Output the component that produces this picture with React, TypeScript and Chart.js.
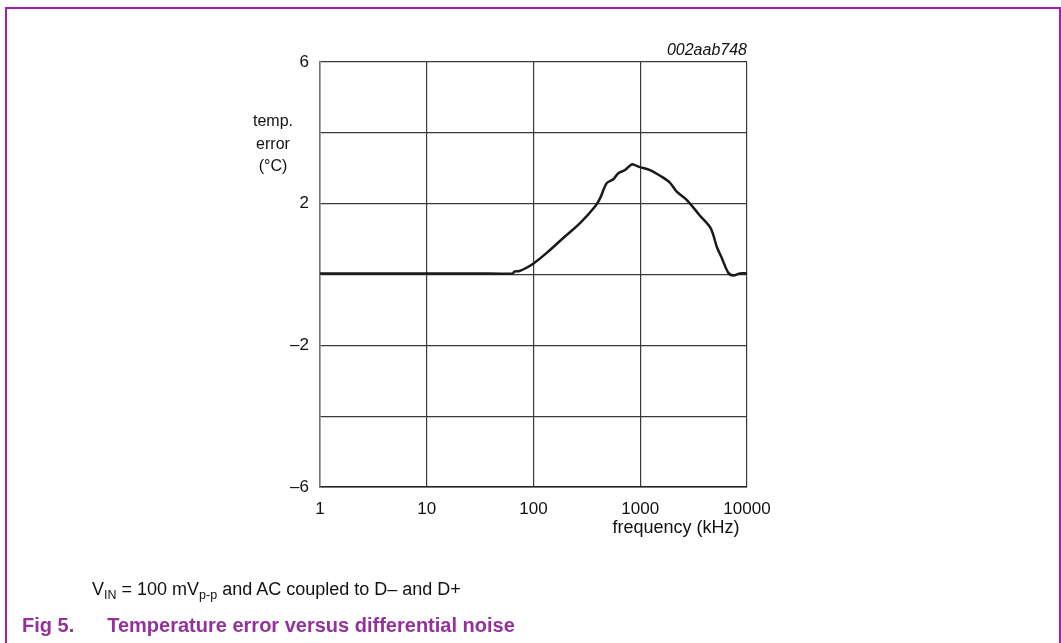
import React, { useEffect, useRef } from "react";
import { Chart, registerables } from "chart.js";

Chart.register(...registerables);

const freqKHz = [1, 10, 30, 64, 66, 74, 86, 100, 133, 190, 273, 377, 420, 485, 560, 623, 720, 831, 893, 995, 1234, 1589, 1900, 2195, 2724, 3630, 4500, 4830, 5200, 5795, 6680, 7450, 8600, 10000];
const tempError = [0.03, 0.03, 0.03, 0.03, 0.08, 0.1, 0.19, 0.31, 0.61, 1.03, 1.45, 1.92, 2.15, 2.58, 2.69, 2.86, 2.95, 3.11, 3.09, 3.03, 2.95, 2.76, 2.59, 2.34, 2.11, 1.66, 1.34, 1.12, 0.79, 0.47, 0.05, -0.03, 0.03, 0.03];
const xTickValues = [1, 10, 100, 1000, 10000];
const yTickValues = [-6, -4, -2, 0, 2, 4, 6];
const yLabeledTicks = [6, 2, -2, -6];

const FONT = "'Liberation Sans', Arial, sans-serif";
const PURPLE = "#a020a8";
const PURPLE_TEXT = "#93329a";

export default function App() {
  const ref = useRef<HTMLCanvasElement | null>(null);

  useEffect(() => {
    if (!ref.current) return;
    const chart = new Chart(ref.current, {
      type: "line",
      data: {
        datasets: [
          {
            data: freqKHz.map((f, i) => ({ x: f, y: tempError[i] })),
            borderColor: "#1a1a1a",
            borderWidth: 2.5,
            pointRadius: 0,
            tension: 0.3,
            fill: false,
          },
        ],
      },
      options: {
        animation: false,
        responsive: false,
        maintainAspectRatio: false,
        layout: { padding: { left: 280, right: 314, top: 62, bottom: 116 } },
        plugins: { legend: { display: false }, tooltip: { enabled: false }, title: { display: false } },
        scales: {
          x: {
            type: "logarithmic",
            min: 1,
            max: 10000,
            afterBuildTicks: (s: any) => {
              s.ticks = xTickValues.map((v) => ({ value: v }));
            },
            afterFit: (s: any) => {
              s.height = 40;
              s.paddingLeft = 0;
              s.paddingRight = 0;
              s.paddingTop = 0;
              s.paddingBottom = 0;
            },
            ticks: {
              autoSkip: false,
              maxRotation: 0,
              padding: 12,
              color: "#111",
              font: { family: FONT, size: 17 },
              callback: (v: any) => String(v),
            },
            grid: { color: "#3a3a3a", lineWidth: 1.2, drawTicks: false },
            border: { color: "#222", width: 1.5 },
          },
          y: {
            min: -6,
            max: 6,
            afterBuildTicks: (s: any) => {
              s.ticks = yTickValues.map((v) => ({ value: v }));
            },
            afterFit: (s: any) => {
              s.width = 40;
              s.paddingLeft = 0;
              s.paddingRight = 0;
              s.paddingTop = 0;
              s.paddingBottom = 0;
            },
            ticks: {
              padding: 11,
              color: "#111",
              font: { family: FONT, size: 17 },
              callback: (v: any) =>
                yLabeledTicks.includes(Number(v)) ? (Number(v) < 0 ? "\u2013" + Math.abs(Number(v)) : String(v)) : "",
            },
            grid: { color: "#3a3a3a", lineWidth: 1.2, drawTicks: false },
            border: { color: "#777", width: 1.5 },
          },
        },
      },
    });
    return () => chart.destroy();
  }, []);

  const abs = (s: React.CSSProperties): React.CSSProperties => ({ position: "absolute", fontFamily: FONT, whiteSpace: "nowrap", ...s });

  return (
    <div style={{ position: "absolute", left: 0, top: 0, width: 1061, height: 643, overflow: "hidden", background: "#fff" }}>
      <div style={{ position: "absolute", left: 5, top: 7, width: 1052, height: 700, borderTop: `2px solid ${PURPLE}`, borderLeft: `2px solid ${PURPLE}`, borderRight: `2px solid ${PURPLE}` }} />
      <canvas ref={ref} width={1061} height={643} style={{ position: "absolute", left: 0, top: 0, width: 1061, height: 643 }} />
      <div style={abs({ left: 233, top: 110, width: 80, textAlign: "center", fontSize: 16, lineHeight: "22.5px", color: "#111" })}>
        temp.<br />error<br />(°C)
      </div>
      <div style={abs({ left: 596, top: 516, width: 160, textAlign: "center", fontSize: 18, lineHeight: "22px", color: "#111" })}>
        frequency (kHz)
      </div>
      <div style={abs({ left: 627, top: 40, width: 120, textAlign: "right", fontSize: 16, fontStyle: "italic", lineHeight: "20px", color: "#111" })}>
        002aab748
      </div>
      <div style={abs({ left: 92, top: 578, fontSize: 18, lineHeight: "22px", color: "#111" })}>
        V<sub style={{ fontSize: 12.5, verticalAlign: -4 }}>IN</sub> = 100 mV<sub style={{ fontSize: 12.5, verticalAlign: -4 }}>p-p</sub> and AC coupled to D– and D+
      </div>
      <div style={abs({ left: 22, top: 613, fontSize: 20, fontWeight: "bold", lineHeight: "24px", color: PURPLE_TEXT })}>
        Fig 5.<span style={{ display: "inline-block", width: 33 }} />Temperature error versus differential noise
      </div>
    </div>
  );
}
